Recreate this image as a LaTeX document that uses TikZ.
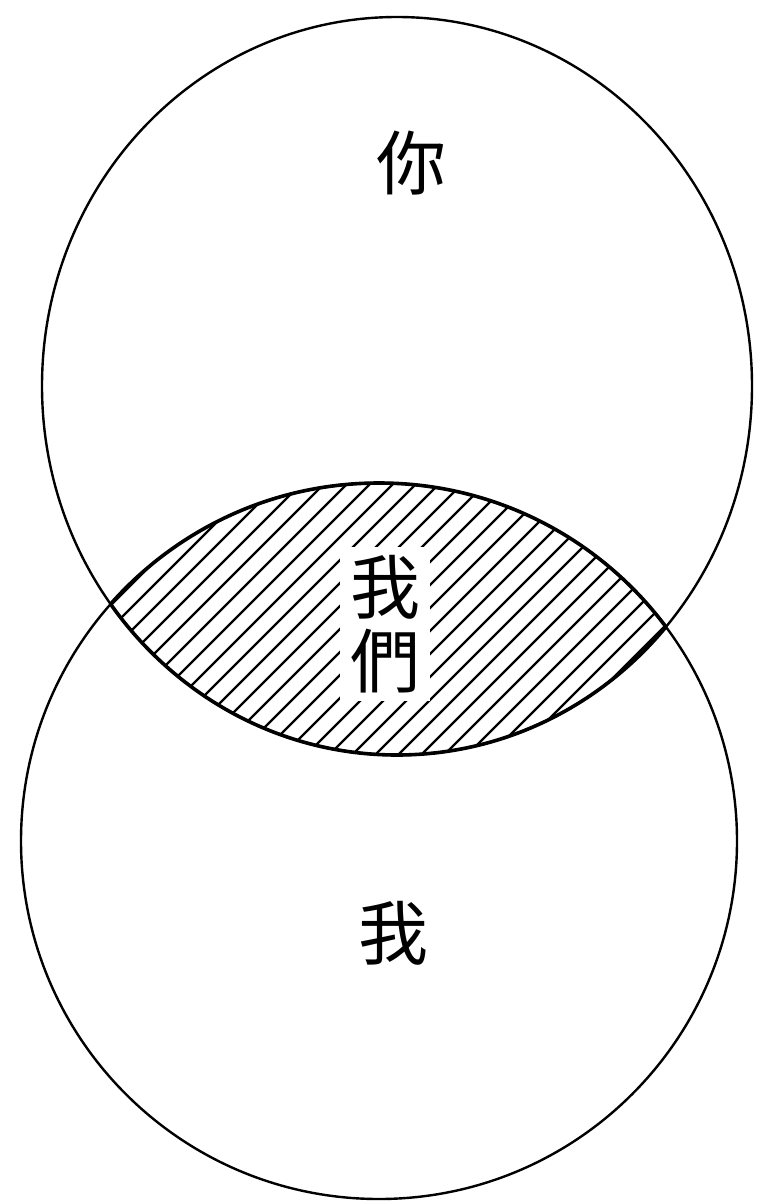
\documentclass[tikz,border=0pt]{standalone}
\usepackage{fontspec}
\newfontfamily\cjk{Noto Sans CJK TC}
\begin{document}
\begin{tikzpicture}[x=0.5pt, y=-0.5pt, line width=1.2pt, line join=round,
  zeichen/.style={font=\cjk\fontsize{35}{37}\selectfont, inner sep=0pt},
  schraffur/.style={line width=1.1pt}]
  \useasboundingbox (0,0) rectangle (764,1204);
  % Schraffur der Schnittmenge
  \begin{scope}
    \clip (397,386) ellipse (355 and 369);
    \clip (379,841) circle (358);
    \foreach \c in {716,739,...,1300}
      \draw[schraffur] (\c-400,400) -- (\c-800,800);
  \end{scope}
  % Rand der Schnittmenge, kräftiger
  \begin{scope}
    \clip (379,841) circle (358);
    \draw[line width=1.8pt] (397,386) ellipse (355 and 369);
  \end{scope}
  \begin{scope}
    \clip (397,386) ellipse (355 and 369);
    \draw[line width=1.8pt] (379,841) circle (358);
  \end{scope}
  % Kreise
  \draw (397,386) ellipse (355 and 369);
  \draw (379,841) circle (358);
  % Beschriftungen
  \node[zeichen] (du) at (411,163) {你};
  \node[zeichen, fill=white, align=center, inner xsep=5pt, inner ysep=4pt] (wir) at (385,624) {我\\們};
  \node[zeichen] (ich) at (393,933) {我};
\end{tikzpicture}
\end{document}
